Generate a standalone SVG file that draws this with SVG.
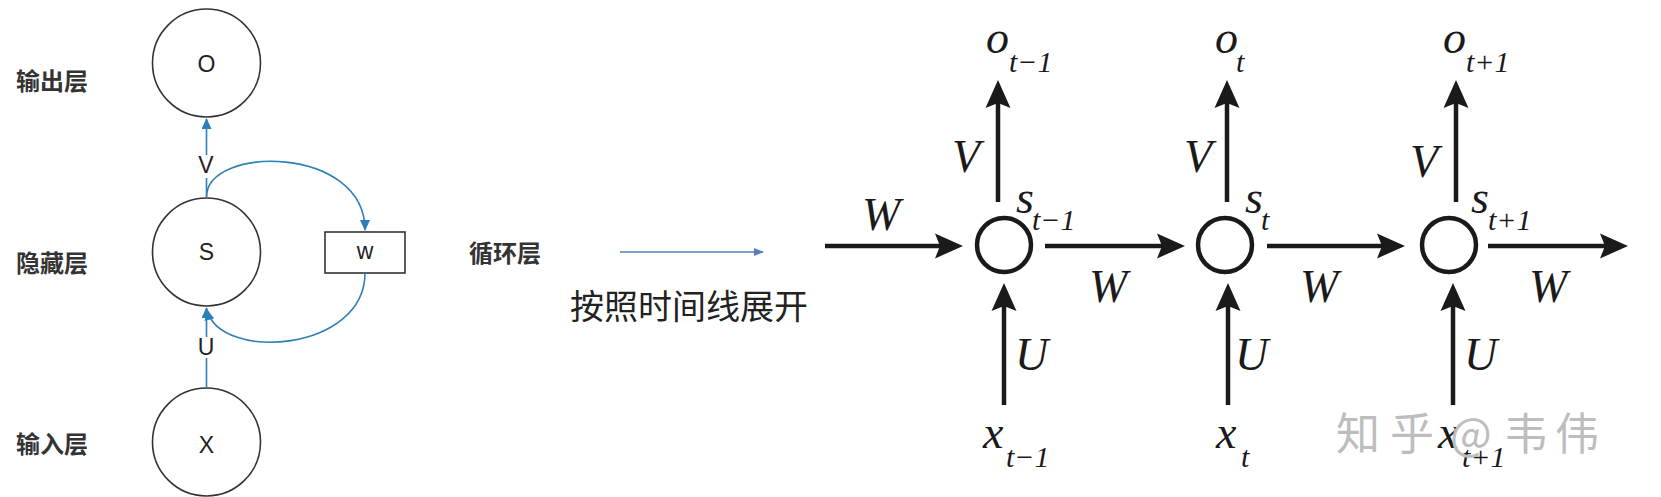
<svg xmlns="http://www.w3.org/2000/svg" width="1661" height="497" viewBox="0 0 1661 497">
<style>
.lbl{font-family:"Noto Sans CJK SC","Noto Sans",sans-serif;font-size:24px;font-weight:bold;fill:#333}
.ltr{font-family:"Liberation Sans",Arial,sans-serif;font-size:23px;fill:#222;text-anchor:middle}
.lcirc{fill:none;stroke:#333;stroke-width:1.6}
.blue{fill:none;stroke:#2c7fb8;stroke-width:1.6}
.blk{fill:none;stroke:#1a1a1a;stroke-width:4.5}
.rcirc{fill:none;stroke:#1a1a1a;stroke-width:4.5}
.it{font-family:"Liberation Serif","Times New Roman",serif;font-style:italic;fill:#1a1a1a;font-size:46px}
.sub{font-size:30px}
.wm{font-family:"Noto Sans CJK SC","Noto Sans",sans-serif;font-size:44px;fill:#bdbdbd}
</style>
<defs>
<marker id="ah" markerUnits="userSpaceOnUse" viewBox="0 0 30 26" markerWidth="30" markerHeight="26" refX="16" refY="13" orient="auto">
<path d="M0,0.5 L28,13 L0,25.5 L5,13 Z" fill="#1a1a1a"/>
</marker>
<marker id="bh" markerUnits="userSpaceOnUse" viewBox="0 0 12 10" markerWidth="12" markerHeight="10" refX="10" refY="5" orient="auto">
<path d="M0,0 L11,5 L0,10 Z" fill="#2c7fb8"/>
</marker>
<marker id="sh" markerUnits="userSpaceOnUse" viewBox="0 0 10 8" markerWidth="10" markerHeight="8" refX="9" refY="4" orient="auto">
<path d="M0,0 L10,4 L0,8 Z" fill="#5a7dbd"/>
</marker>
</defs>
<rect width="1661" height="497" fill="#ffffff"/>

<!-- left: folded RNN -->
<g id="label-output"><text class="lbl" x="16" y="90">输出层</text></g>
<g id="label-hidden"><text class="lbl" x="16" y="272">隐藏层</text></g>
<g id="label-input"><text class="lbl" x="16" y="453">输入层</text></g>
<g id="node-o"><circle class="lcirc" cx="206.5" cy="63" r="54"/><text class="ltr" x="206.5" y="72">O</text></g>
<g id="node-s"><circle class="lcirc" cx="206.5" cy="252" r="54"/><text class="ltr" x="206.5" y="260">S</text></g>
<g id="node-x"><circle class="lcirc" cx="206.5" cy="442" r="54"/><text class="ltr" x="206.5" y="453">X</text></g>
<g id="node-w"><rect x="325" y="232" width="80" height="41" fill="#fff" stroke="#333" stroke-width="1.6"/><text class="ltr" x="365" y="259">w</text></g>
<g id="label-loop"><text class="lbl" x="469" y="262">循环层</text></g>
<g id="label-unfold"><text x="570" y="319" font-family="Noto Sans CJK SC,Noto Sans,sans-serif" font-size="34" fill="#222">按照时间线展开</text></g>

<g id="left-connectors">
<path class="blue" d="M206.5,155 L206.5,119" marker-end="url(#bh)"/>
<path class="blue" d="M206.5,197 L206.5,178"/>
<path class="blue" d="M206.5,197 C206.5,145 365,145 365,230" marker-end="url(#bh)"/>
<path class="blue" d="M365,273 C365,352 220,362 207,310" marker-end="url(#bh)"/>
<path class="blue" d="M206.5,387 L206.5,358"/>
<path class="blue" d="M206.5,337 L206.5,308" marker-end="url(#bh)"/>
<text class="ltr" x="206" y="173" font-size="21">V</text>
<text class="ltr" x="206" y="355" font-size="21">U</text>
<path d="M620,252 L763,252" fill="none" stroke="#5a7dbd" stroke-width="1.3" marker-end="url(#sh)"/>
</g>

<!-- right: unrolled RNN -->
<g id="node-s1"><circle class="rcirc" cx="1004" cy="245" r="27"/>
<text class="it"><tspan x="1016" y="213">s</tspan><tspan class="sub" x="1032" y="230">t−1</tspan></text></g>
<g id="node-s2"><circle class="rcirc" cx="1225" cy="245" r="27"/>
<text class="it"><tspan x="1245" y="213">s</tspan><tspan class="sub" x="1261" y="230">t</tspan></text></g>
<g id="node-s3"><circle class="rcirc" cx="1449" cy="245" r="27"/>
<text class="it"><tspan x="1471" y="213">s</tspan><tspan class="sub" x="1488" y="230">t+1</tspan></text></g>

<g id="out-o1"><text class="it"><tspan x="986" y="53">o</tspan><tspan class="sub" x="1009" y="72">t−1</tspan></text></g>
<g id="out-o2"><text class="it"><tspan x="1215" y="53">o</tspan><tspan class="sub" x="1236" y="72">t</tspan></text></g>
<g id="out-o3"><text class="it"><tspan x="1443" y="53">o</tspan><tspan class="sub" x="1466" y="72">t+1</tspan></text></g>

<g id="in-x1"><text class="it"><tspan x="983" y="448">x</tspan><tspan class="sub" x="1006" y="467">t−1</tspan></text></g>
<g id="in-x2"><text class="it"><tspan x="1216" y="448">x</tspan><tspan class="sub" x="1241" y="467">t</tspan></text></g>
<g id="in-x3"><text class="it"><tspan x="1438" y="448">x</tspan><tspan class="sub" x="1462" y="467">t+1</tspan></text></g>

<g id="right-connectors">
<path class="blk" d="M825,246 L951,246" marker-end="url(#ah)"/>
<path class="blk" d="M1045,246 L1173,246" marker-end="url(#ah)"/>
<path class="blk" d="M1267,246 L1393,246" marker-end="url(#ah)"/>
<path class="blk" d="M1488,246 L1616,246" marker-end="url(#ah)"/>
<path class="blk" d="M998,202 L998,92" marker-end="url(#ah)"/>
<path class="blk" d="M1227,202 L1227,92" marker-end="url(#ah)"/>
<path class="blk" d="M1456,202 L1456,92" marker-end="url(#ah)"/>
<path class="blk" d="M1004,405 L1004,295" marker-end="url(#ah)"/>
<path class="blk" d="M1228,405 L1228,295" marker-end="url(#ah)"/>
<path class="blk" d="M1453,405 L1453,295" marker-end="url(#ah)"/>
<text class="it" x="862" y="230">W</text>
<text class="it" x="1089" y="302">W</text>
<text class="it" x="1300" y="302">W</text>
<text class="it" x="1529" y="302">W</text>
<text class="it" x="952" y="172">V</text>
<text class="it" x="1184" y="172">V</text>
<text class="it" x="1410" y="177">V</text>
<text class="it" x="1015" y="370">U</text>
<text class="it" x="1235" y="370">U</text>
<text class="it" x="1464" y="370">U</text>
</g>

<g id="watermark"><text class="wm" x="1336 1390 1436 1450 1504 1555" y="450">知乎 @韦伟</text></g>
</svg>
